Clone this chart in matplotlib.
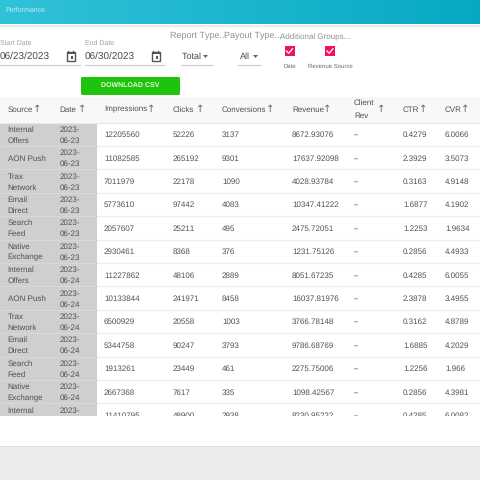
import matplotlib
matplotlib.use("Agg")
import matplotlib.pyplot as plt
from matplotlib.patches import Rectangle, FancyBboxPatch
import numpy as np

plt.rcParams['font.family'] = ['Liberation Sans', 'DejaVu Sans']
plt.rcParams['text.hinting'] = 'none'
plt.rcParams['text.hinting_factor'] = 1

# table data
sources = ["Internal\nOffers", "AON Push", "Trax\nNetwork", "Email\nDirect", "Search\nFeed", "Native\nExchange",
           "Internal\nOffers", "AON Push", "Trax\nNetwork", "Email\nDirect", "Search\nFeed", "Native\nExchange",
           "Internal\nOffers"]
dates = ["2023-\n06-23"] * 6 + ["2023-\n06-24"] * 7
impressions = ["12205560", "11082585", "7011979", "5773610", "2057607", "2930461",
               "11227862", "10133844", "6500929", "5344758", "1913261", "2667368", "11410795"]
clicks = ["52226", "265192", "22178", "97442", "25211", "8368",
          "48106", "241971", "20558", "90247", "23449", "7617", "48900"]
conversions = ["3137", "9301", "1090", "4083", "495", "376",
               "2889", "8458", "1003", "3793", "461", "335", "2938"]
revenue = ["8672.93076", "17637.92098", "4028.93784", "10347.41222", "2475.72051", "1231.75126",
           "8051.67235", "16037.81976", "3766.78148", "9786.68769", "2275.75006", "1098.42567", "8230.95222"]
client_rev = ["--"] * 13
ctr = ["0.4279", "2.3929", "0.3163", "1.6877", "1.2253", "0.2856",
       "0.4285", "2.3878", "0.3162", "1.6885", "1.2256", "0.2856", "0.4285"]
cvr = ["6.0066", "3.5073", "4.9148", "4.1902", "1.9634", "4.4933",
       "6.0055", "3.4955", "4.8789", "4.2029", "1.966", "4.3981", "6.0082"]

headers = ["Source", "Date", "Impressions", "Clicks", "Conversions", "Revenue", "Client\nRev", "CTR", "CVR"]
header_x = [7.5, 59.5, 104, 173, 222, 292, 354, 403, 445]
arrow_x = [37.5, 82, 151.5, 200, 270, 327, 381, 423, 465]
columns = [sources, dates, impressions, clicks, conversions, revenue, client_rev, ctr, cvr]

row_top = 122.5
row_h = 23.4
table_bottom = 415.5
text_col = "#505050"

fig = plt.figure(figsize=(4.8, 4.8), dpi=100)
ax = fig.add_axes([0, 0, 1, 1])
ax.set_xlim(0, 480)
ax.set_ylim(480, 0)
ax.axis("off")

# top bar
grad = np.linspace(0, 1, 256).reshape(1, -1, 1)
c1 = np.array([0.19, 0.76, 0.85]).reshape(1, 1, 3)
c2 = np.array([0.03, 0.66, 0.77]).reshape(1, 1, 3)
ax.imshow(c1 * (1 - grad) + c2 * grad, extent=[0, 480, 24.5, 0], aspect="auto", zorder=1)
ax.set_xlim(0, 480)
ax.set_ylim(480, 0)
for i, a in enumerate([0.10, 0.06, 0.035, 0.015]):
    ax.add_patch(Rectangle((0, 24.5 + i), 480, 1, color="black", alpha=a, lw=0, zorder=1))
ax.text(5, 10, "Performance", color="#c5eef5", fontsize=5.4, va="center", zorder=3)

# date fields
ax.text(0.5, 43.5, "Start Date", color="#a0a0a0", fontsize=4.9, va="center")
ax.text(85, 43.5, "End Date", color="#a0a0a0", fontsize=4.9, va="center")
ax.text(0, 56, "06/23/2023", color="#4a4a4a", fontsize=7.2, va="center")
ax.text(85, 56, "06/30/2023", color="#4a4a4a", fontsize=7.2, va="center")
for x0, x1 in [(0, 80), (85, 165), (181, 213), (238, 261)]:
    ax.plot([x0, x1], [65, 65], color="#cccccc", lw=0.8, zorder=2)
# calendar icons
for cx in [70.5, 155.5]:
    ax.add_patch(Rectangle((cx - 4, 52), 8, 8.5, fill=False, ec="#555555", lw=1))
    ax.add_patch(Rectangle((cx - 4, 52), 8, 2, color="#555555", lw=0))
    ax.add_patch(Rectangle((cx + 0.2, 56), 2.4, 2.6, color="#555555", lw=0))
    ax.plot([cx - 2.2, cx - 2.2], [50.5, 52], color="#555555", lw=0.9)
    ax.plot([cx + 2.2, cx + 2.2], [50.5, 52], color="#555555", lw=0.9)

# selects
ax.text(170.5, 35.5, "Report Type...", color="#909090", fontsize=6.4, va="center")
ax.text(224, 35.5, "Payout Type...", color="#909090", fontsize=6.2, va="center")
ax.text(279.5, 37, "Additional Groups...", color="#909090", fontsize=6.0, va="center")
ax.text(181.5, 56.5, "Total", color="#4a4a4a", fontsize=6.3, va="center")
ax.text(240, 56.5, "All", color="#4a4a4a", fontsize=6.3, va="center")
ax.fill([203, 208, 205.5], [55, 55, 58], color="#666666", lw=0)
ax.fill([253, 258, 255.5], [55, 55, 58], color="#666666", lw=0)

# checkboxes
for cx, label in [(289, "Date"), (329.5, "Revenue Source")]:
    ax.add_patch(Rectangle((cx - 4.5, 46), 10, 10, color="#f2125f", lw=0, zorder=2))
    ax.plot([cx - 2.5, cx - 0.3, cx + 3.5], [51, 53.3, 48.7], color="white", lw=0.9, zorder=3)
    ax.text(cx + 0.5, 66.5, label, color="#6a6a6a", fontsize=4.6, va="center", ha="center")

# download button
ax.add_patch(FancyBboxPatch((81, 77), 99, 18, boxstyle="round,pad=0,rounding_size=1.5",
                            fc="#1ec40c", ec="none", zorder=2))
ax.text(130.5, 85.5, "DOWNLOAD CSV", color="#e6f8d8", fontsize=5.0, va="center", ha="center",
        fontweight="bold", zorder=3)

# table header
ax.add_patch(Rectangle((0, 96.5), 480, 26, color="#f8f8f8", lw=0, zorder=1))
ax.plot([0, 480], [122.5, 122.5], color="#e8e8e8", lw=0.8, zorder=2)
for name, hx, ar_x in zip(headers, header_x, arrow_x):
    if "\n" in name:
        for line, hy in zip(name.split("\n"), [103, 116]):
            ax.text(hx, hy, line, color=text_col, fontsize=5.5, va="center", zorder=3)
    else:
        ax.text(hx, 109.5, name, color=text_col, fontsize=5.6, va="center", zorder=3)
    ax.text(ar_x, 109.5, "\u2191", color="#666666", fontsize=7.5, va="center", ha="center",
            family="DejaVu Sans", zorder=3)

# table rows
clip = Rectangle((0, row_top), 480, table_bottom - row_top, transform=ax.transData)
ax.add_patch(Rectangle((0, row_top), 96.5, table_bottom - row_top, color="#cfcfcf", lw=0, zorder=1))
for r in range(len(sources)):
    y = row_top + row_h * (r + 0.5)
    if r < len(sources) - 1:
        line_y = row_top + row_h * (r + 1)
        ax.plot([96.5, 480], [line_y, line_y], color="#eeeeee", lw=0.9, zorder=2)
        ax.plot([0, 96.5], [line_y, line_y], color="#dadada", lw=0.6, zorder=2)
    for c, col in enumerate(columns):
        val = col[r]
        if "\n" in val:
            for line, dy in zip(val.split("\n"), [-4.6, 6.4]):
                t = ax.text(header_x[c], y + dy, line, color=text_col, fontsize=5.7, va="center", zorder=3)
                t.set_clip_path(clip)
                t.set_clip_on(True)
        else:
            t = ax.text(header_x[c], y + 0.8, val, color=text_col, fontsize=5.9, va="center", zorder=3)
            t.set_clip_path(clip)
            t.set_clip_on(True)

# footer
ax.add_patch(Rectangle((0, 446), 480, 34, color="#ececec", lw=0, zorder=1))
ax.add_patch(Rectangle((0, 445.5), 480, 1, color="#dfdfdf", lw=0, zorder=2))

fig.savefig("out.png", dpi=100)
